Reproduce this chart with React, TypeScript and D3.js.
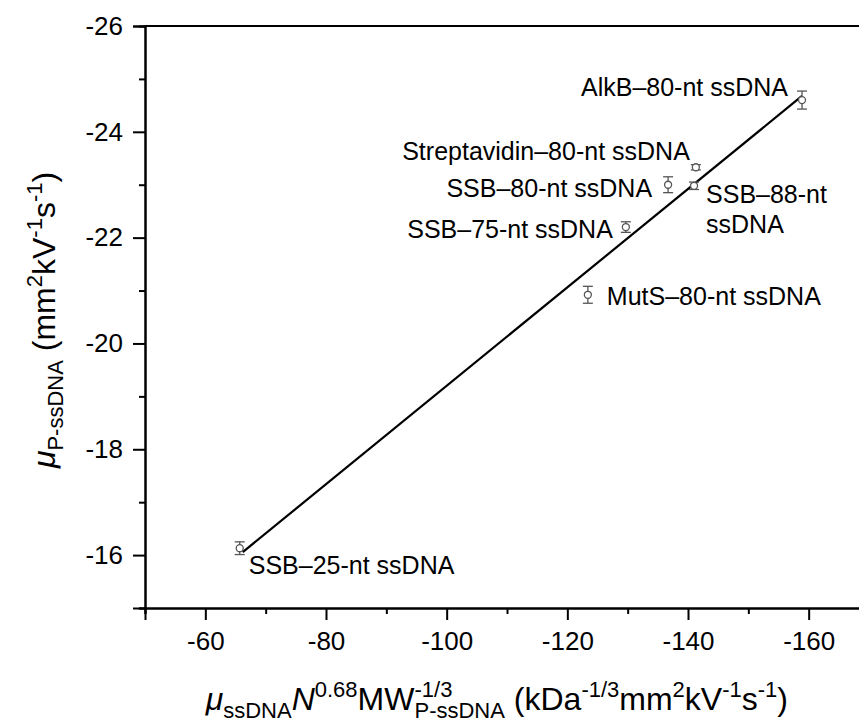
import React, { useEffect, useRef } from 'react';
import * as d3 from 'd3';

// chart size and plot frame
const width = 859;
const height = 723;
const margin = { top: 26, right: -10, bottom: 115, left: 145 };

// data
const names = [
  'SSB–25-nt ssDNA',
  'AlkB–80-nt ssDNA',
  'Streptavidin–80-nt ssDNA',
  'SSB–88-nt ssDNA',
  'SSB–80-nt ssDNA',
  'SSB–75-nt ssDNA',
  'MutS–80-nt ssDNA',
];
const xVals = [-65.7, -158.9, -141.3, -141.0, -136.7, -129.7, -123.4];
const yVals = [-16.13, -24.6, -23.33, -22.98, -23.0, -22.2, -20.92];
const yErrs = [0.12, 0.17, 0.05, 0.07, 0.15, 0.1, 0.16];

// linear fit drawn over the data
const fitSlope = 0.093;
const fitIntercept = -9.9;
const fitRange = [-66.2, -158.9];

// ticks
const xMajor = [-60, -80, -100, -120, -140, -160];
const xMinor = [-50, -70, -90, -110, -130, -150, -170];
const yMajor = [-16, -18, -20, -22, -24, -26];
const yMinor = [-15, -17, -19, -21, -23, -25];

// label placement (pixel offsets from the point)
const labelOffsets = [
  { dx: 9, dy: 26, anchor: 'start' },
  { dx: -14, dy: -4, anchor: 'end' },
  { dx: -6, dy: -7, anchor: 'end' },
  { dx: 12, dy: 17, anchor: 'start' },
  { dx: -16, dy: 12, anchor: 'end' },
  { dx: -13, dy: 11, anchor: 'end' },
  { dx: 19, dy: 10, anchor: 'start' },
];

const font = 'Arial, "Liberation Sans", sans-serif';

const App = () => {
  const svgRef = useRef<SVGSVGElement>(null);

  useEffect(() => {
    const svg = d3.select(svgRef.current);
    svg.selectAll('*').remove();

    const x = d3.scaleLinear().domain([-50, -170]).range([margin.left, width - margin.right]);
    const y = d3.scaleLinear().domain([-15, -26]).range([height - margin.bottom, margin.top]);

    const x0 = x(-50);
    const x1 = x(-170);
    const yb = y(-15);
    const yt = y(-26);

    // frame (top and right lines)
    svg.append('line').attr('x1', x0).attr('x2', x1).attr('y1', yt).attr('y2', yt)
      .attr('stroke', '#000').attr('stroke-width', 2);
    svg.append('line').attr('x1', x1).attr('x2', x1).attr('y1', yt).attr('y2', yb)
      .attr('stroke', '#000').attr('stroke-width', 2);

    const styleAxis = (g: any) => {
      g.select('.domain').attr('stroke-width', 2);
      g.selectAll('.tick line').attr('stroke-width', 2);
      g.selectAll('text').attr('font-family', font).attr('font-size', 26).attr('fill', '#000');
    };

    const fmt = (d: any) => String(d);

    // bottom axis
    svg.append('g').attr('transform', `translate(0,${yb})`)
      .call(d3.axisBottom(x).tickValues(xMinor).tickSize(6).tickFormat(() => ''))
      .call(styleAxis);
    svg.append('g').attr('transform', `translate(0,${yb})`)
      .call(d3.axisBottom(x).tickValues(xMajor).tickSize(12).tickPadding(12).tickFormat(fmt))
      .call(styleAxis);

    // left axis
    svg.append('g').attr('transform', `translate(${x0},0)`)
      .call(d3.axisLeft(y).tickValues(yMinor).tickSize(6).tickFormat(() => ''))
      .call(styleAxis);
    svg.append('g').attr('transform', `translate(${x0},0)`)
      .call(d3.axisLeft(y).tickValues(yMajor).tickSize(12).tickPadding(10).tickFormat(fmt))
      .call(styleAxis);

    // fit line
    svg.append('line')
      .attr('x1', x(fitRange[0])).attr('y1', y(fitIntercept + fitSlope * fitRange[0]))
      .attr('x2', x(fitRange[1])).attr('y2', y(fitIntercept + fitSlope * fitRange[1]))
      .attr('stroke', '#000').attr('stroke-width', 2.2);

    // error bars and points
    const pts = names.map((n, i) => ({ name: n, x: xVals[i], y: yVals[i], e: yErrs[i], lab: labelOffsets[i] }));
    const gp = svg.append('g').attr('stroke', '#555').attr('stroke-width', 1.3).attr('fill', 'none');
    pts.forEach(d => {
      const cx = x(d.x);
      gp.append('line').attr('x1', cx).attr('x2', cx).attr('y1', y(d.y - d.e)).attr('y2', y(d.y + d.e));
      gp.append('line').attr('x1', cx - 5).attr('x2', cx + 5).attr('y1', y(d.y - d.e)).attr('y2', y(d.y - d.e));
      gp.append('line').attr('x1', cx - 5).attr('x2', cx + 5).attr('y1', y(d.y + d.e)).attr('y2', y(d.y + d.e));
      gp.append('circle').attr('cx', cx).attr('cy', y(d.y)).attr('r', 3.5).attr('fill', '#fff');
    });

    // point labels
    pts.forEach(d => {
      const t = svg.append('text')
        .attr('x', x(d.x) + d.lab.dx)
        .attr('y', y(d.y) + d.lab.dy)
        .attr('text-anchor', d.lab.anchor)
        .attr('font-family', font)
        .attr('font-size', 25)
        .attr('fill', '#000');
      if (d.name === 'SSB–88-nt ssDNA') {
        t.append('tspan').text('SSB–88-nt');
        t.append('tspan').attr('x', x(d.x) + d.lab.dx).attr('dy', 30).text('ssDNA');
      } else {
        t.text(d.name);
      }
    });

    // axis titles
    const addParts = (t: any, parts: any[]) => {
      parts.forEach(p => {
        const s = t.append('tspan').text(p.t).attr('font-size', p.s);
        if (p.dy) s.attr('dy', p.dy);
        if (p.dx) s.attr('dx', p.dx);
        if (p.i) s.attr('font-style', 'italic');
      });
    };
    const big = 32;
    const sm = 22;

    const xt = svg.append('text')
      .attr('x', (x0 + x(-160)) / 2 + 20)
      .attr('y', 710)
      .attr('text-anchor', 'middle')
      .attr('font-family', font)
      .attr('fill', '#000');
    addParts(xt, [
      { t: 'μ', s: big, i: true },
      { t: 'ssDNA', s: sm, dy: 8 },
      { t: 'N', s: big, i: true, dy: -8 },
      { t: '0.68', s: sm, dy: -13 },
      { t: 'MW', s: big, dy: 13 },
      { t: '-1/3', s: sm, dy: -13 },
      { t: 'P-ssDNA', s: sm, dy: 21, dx: '-1.723em' },
      { t: '\u00a0(kDa', s: big, dy: -8 },
      { t: '-1/3', s: sm, dy: -13 },
      { t: 'mm', s: big, dy: 13 },
      { t: '2', s: sm, dy: -13 },
      { t: 'kV', s: big, dy: 13 },
      { t: '-1', s: sm, dy: -13 },
      { t: 's', s: big, dy: 13 },
      { t: '-1', s: sm, dy: -13 },
      { t: ')', s: big, dy: 13 },
    ]);

    const ytl = svg.append('text')
      .attr('transform', `translate(55,${(yt + yb) / 2 + 3}) rotate(-90)`)
      .attr('text-anchor', 'middle')
      .attr('font-family', font)
      .attr('fill', '#000');
    addParts(ytl, [
      { t: 'μ', s: big, i: true },
      { t: 'P-ssDNA', s: sm, dy: 8 },
      { t: '\u00a0(mm', s: big, dy: -8 },
      { t: '2', s: sm, dy: -13 },
      { t: 'kV', s: big, dy: 13 },
      { t: '-1', s: sm, dy: -13 },
      { t: 's', s: big, dy: 13 },
      { t: '-1', s: sm, dy: -13 },
      { t: ')', s: big, dy: 13 },
    ]);
  }, []);

  return (
    <svg
      ref={svgRef}
      width={width}
      height={height}
      style={{ position: 'absolute', left: 0, top: 0, background: '#fff' }}
    />
  );
};

export default App;
